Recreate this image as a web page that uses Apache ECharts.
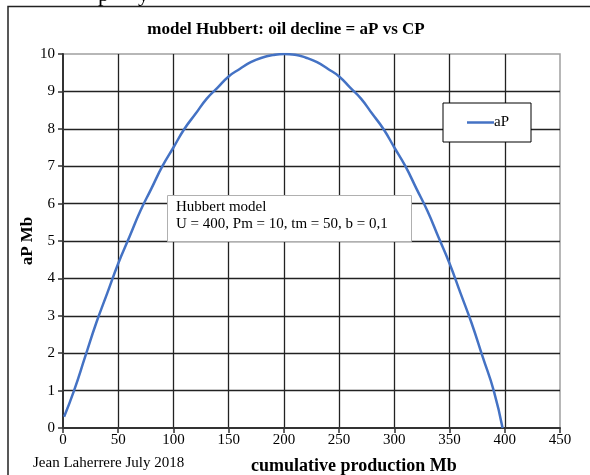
<!DOCTYPE html>
<html>
<head>
<meta charset="utf-8">
<script src="https://cdn.jsdelivr.net/npm/echarts@6/dist/echarts.min.js"></script>
<style>
html,body{margin:0;padding:0;background:#fff;}
#c{width:590px;height:475px;}
</style>
</head>
<body>
<div id="c"></div>
<script>
// cumulative production (Mb)
var cpValues = [1, 10, 20, 30, 40, 50, 60, 70, 80, 90, 100, 110, 120, 130, 140, 150, 160, 170, 180, 190, 200,
                210, 220, 230, 240, 250, 260, 270, 280, 290, 300, 310, 320, 330, 340, 350, 360, 370, 380, 390, 398];
// annual production aP (Mb)
var apValues = [0.3, 1.0, 1.9, 2.8, 3.6, 4.4, 5.1, 5.8, 6.4, 7.0, 7.5, 8.0, 8.4, 8.8, 9.1, 9.4, 9.6, 9.78, 9.9, 9.97, 10.0,
                9.98, 9.9, 9.78, 9.6, 9.4, 9.1, 8.8, 8.4, 8.0, 7.5, 7.0, 6.4, 5.8, 5.1, 4.4, 3.6, 2.8, 1.9, 1.0, 0.0];
var xTicks = [0, 50, 100, 150, 200, 250, 300, 350, 400, 450];
var yTicks = [0, 1, 2, 3, 4, 5, 6, 7, 8, 9, 10];
var seriesName = 'aP';
var titleText = 'model Hubbert: oil decline = aP vs CP';
var xName = 'cumulative production Mb';
var yName = 'aP Mb';
var footer = 'Jean Laherrere July 2018';
var noteLines = ['Hubbert model', 'U = 400, Pm = 10, tm = 50, b = 0,1'];

var serif = '"Liberation Serif", "DejaVu Serif", serif';
var points = cpValues.map(function (c, i) { return [c, apValues[i]]; });

var chart = echarts.init(document.getElementById('c'), null, {renderer: 'canvas'});
chart.setOption({
  animation: false,
  backgroundColor: '#fff',
  title: {
    text: titleText, left: 281, top: 16, textAlign: 'center',
    textStyle: {fontFamily: serif, fontWeight: 'bold', fontSize: 17, color: '#000'}
  },
  grid: {left: 63, top: 54, width: 497, height: 374, show: true, borderColor: '#a0a0a0', borderWidth: 1.5, backgroundColor: 'transparent'},
  xAxis: {
    type: 'value', min: xTicks[0], max: xTicks[xTicks.length - 1], interval: 50,
    axisLine: {show: true, lineStyle: {color: '#333', width: 2}},
    axisTick: {show: true, inside: false, length: 5, lineStyle: {color: '#333', width: 1.5}},
    axisLabel: {fontFamily: serif, fontSize: 15, color: '#000', margin: 5},
    splitLine: {show: true, showMinLine: false, showMaxLine: false, lineStyle: {color: '#222', width: 1.3}}
  },
  yAxis: {
    type: 'value', min: yTicks[0], max: yTicks[yTicks.length - 1], interval: 1,
    name: yName, nameLocation: 'middle', nameGap: 27, nameRotate: 90, nameMoveOverlap: false,
    nameTextStyle: {fontFamily: serif, fontWeight: 'bold', fontSize: 17, color: '#000'},
    axisLine: {show: true, lineStyle: {color: '#333', width: 2}},
    axisTick: {show: true, inside: false, length: 5, lineStyle: {color: '#333', width: 1.5}},
    axisLabel: {fontFamily: serif, fontSize: 15, color: '#000', margin: 8},
    splitLine: {show: true, showMinLine: false, showMaxLine: false, lineStyle: {color: '#222', width: 1.3}}
  },
  legend: {
    left: 443, top: 103,
    data: [{name: seriesName, icon: 'rect'}],
    orient: 'vertical',
    backgroundColor: '#fff', borderColor: '#000', borderWidth: 1,
    padding: [12, 22, 12, 24],
    itemWidth: 27, itemHeight: 2.5, itemGap: 0,
    textStyle: {fontFamily: serif, fontSize: 15, color: '#000', padding: [0, 0, 0, -5]}
  },
  series: [{
    name: seriesName, type: 'line', data: points, symbol: 'none', smooth: 0.5,
    lineStyle: {color: '#4472C4', width: 2.5}, itemStyle: {color: '#4472C4'}, z: 3
  }],
  graphic: [
    {type: 'rect', shape: {x: 8, y: 6.5, width: 600, height: 500}, style: {fill: 'none', stroke: '#222', lineWidth: 1.5}, z: 100},
    {type: 'text', left: 98, top: -16, style: {text: 'p', font: '22px ' + serif, fill: '#000'}, z: 100},
    {type: 'text', left: 138, top: -16, style: {text: 'y', font: '22px ' + serif, fill: '#000'}, z: 100},
    {type: 'rect', shape: {x: 167.5, y: 195.5, width: 244, height: 46}, style: {fill: '#fff', stroke: '#b0b0b0', lineWidth: 1}, z: 50},
    {type: 'text', left: 176, top: 199, style: {text: noteLines.join('\n'), font: '15px ' + serif, fill: '#000', lineHeight: 17}, z: 51},
    {type: 'text', left: 33, top: 456, style: {text: footer, font: '15px ' + serif, fill: '#000'}, z: 50},
    {type: 'text', left: 251, top: 457, style: {text: xName, font: 'bold 18px ' + serif, fill: '#000'}, z: 50}
  ]
});
</script>
</body>
</html>
